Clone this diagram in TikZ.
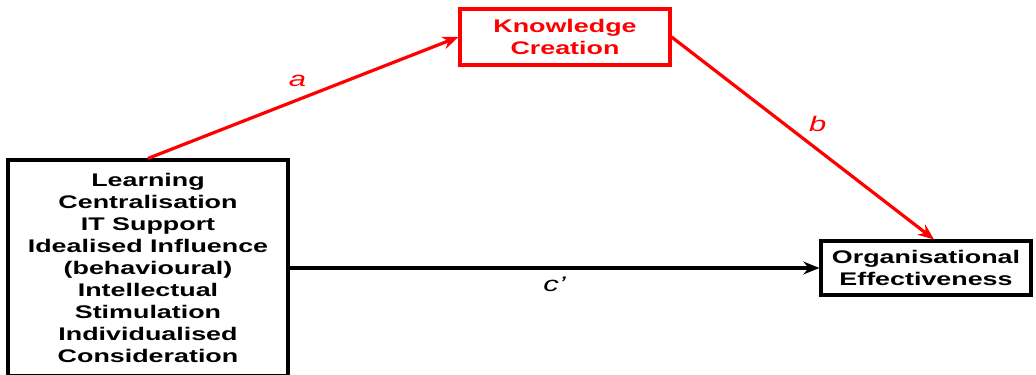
\documentclass[tikz,border=0pt]{standalone}
\usepackage{fontspec}
\usepackage{tikz}
\usepackage{xcolor}
\usetikzlibrary{arrows.meta, positioning, calc}
\newfontfamily\diagfont[FakeStretch=1.47]{Liberation Sans}
\definecolor{cRed}{RGB}{255,0,0}
\tikzset{
	varbox/.style  ={rectangle, draw=black, line width=0.08cm, text centered, align=center, inner sep=2pt, font=\diagfont\bfseries\fontsize{13pt}{15.6pt}\selectfont},
	medbox/.style  ={varbox, draw=cRed, text=cRed},
	% path styles
	effarrow/.style={-{Stealth[length=4mm, width=3.2mm]}, line width=0.08cm},
	medarrow/.style={effarrow, cRed},
	coef/.style    ={font=\diagfont\itshape\fontsize{15pt}{18pt}\selectfont},
}
\begin{document}
\begin{tikzpicture}
			\useasboundingbox (0,0) rectangle (25.9,-9.35);
			\node[varbox, minimum width=7.0cm, minimum height=5.4cm] (iv) at (3.7,-6.7) {Learning\\ Centralisation\\ IT Support\\ Idealised Influence\\ (behavioural)\\ Intellectual\\ Stimulation\\ Individualised\\ Consideration};
			\node[medbox, minimum width=5.25cm, minimum height=1.4cm] (kc) at (14.125,-0.925) {Knowledge\\ Creation};
			\node[varbox, minimum width=5.25cm, minimum height=1.35cm] (oe) at (23.15,-6.7) {Organisational\\ Effectiveness};
			\draw[medarrow] (iv.north) -- (kc.west) node[coef, midway, above=3pt, xshift=-4pt] {a};
			\draw[medarrow] (kc.east) -- ($(oe.north)+(0.2,0)$) node[coef, midway, above right=0pt and 0pt] {b};
			\draw[effarrow] (iv.east) -- (oe.west) node[coef, midway, below=2pt] {c’};
		\end{tikzpicture}
\end{document}
